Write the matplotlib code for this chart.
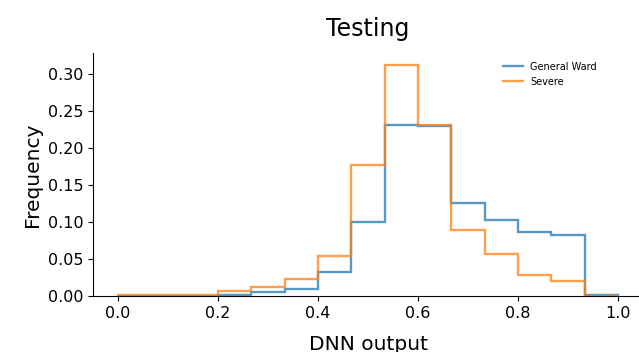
import numpy as np
import matplotlib
matplotlib.use("Agg")
import matplotlib.pyplot as plt
from matplotlib.lines import Line2D

# 15 equal bins over the DNN output range [0, 1]
bin_edges = np.linspace(0.0, 1.0, 16)
bin_centers = (bin_edges[:-1] + bin_edges[1:]) / 2

# relative frequency per bin
general_ward = [0.000, 0.000, 0.000, 0.002, 0.005, 0.010, 0.032, 0.100,
                0.232, 0.230, 0.126, 0.103, 0.087, 0.083, 0.002]
severe = [0.001, 0.001, 0.002, 0.007, 0.012, 0.023, 0.054, 0.177,
          0.313, 0.232, 0.090, 0.057, 0.028, 0.020, 0.000]

fig = plt.figure(figsize=(6.39, 3.52), dpi=100)
ax = fig.add_axes([0.1455, 0.159, 0.861, 0.690])

ax.hist(bin_centers, bins=bin_edges, weights=general_ward, histtype="step",
        linewidth=1.7, alpha=0.75, color="#1f77b4", label="General Ward")
ax.hist(bin_centers, bins=bin_edges, weights=severe, histtype="step",
        linewidth=1.7, alpha=0.75, color="#ff7f0e", label="Severe")

ax.set_title("Testing", fontsize=17, pad=12)
ax.set_xlabel("DNN output", fontsize=14.5, labelpad=10)
ax.set_ylabel("Frequency", fontsize=14.5)
ax.tick_params(labelsize=11.5)
ax.set_yticks(np.arange(0, 0.31, 0.05))

ax.spines["top"].set_visible(False)
ax.spines["right"].set_visible(False)

# proxy handles so the legend shows lines instead of boxes
handles = [Line2D([], [], color="#1f77b4", lw=1.7, alpha=0.75),
           Line2D([], [], color="#ff7f0e", lw=1.7, alpha=0.75)]
ax.legend(handles, ["General Ward", "Severe"], loc="upper right",
          fontsize=7, frameon=False, bbox_to_anchor=(0.932, 1.0))

fig.savefig("out.png", dpi=100)
